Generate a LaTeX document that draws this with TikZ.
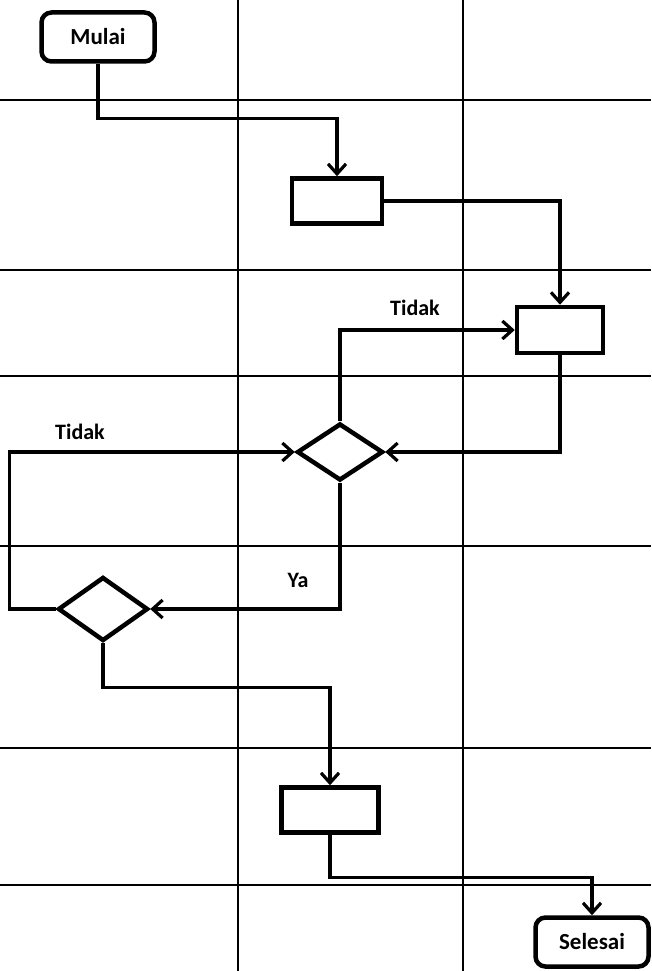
\documentclass[tikz,border=0pt]{standalone}
\usepackage{fontspec}
\setmainfont{Carlito}
\usepackage{tikz}
\usetikzlibrary{arrows.meta, shapes.geometric, calc}

\begin{document}
\begin{tikzpicture}[
      x=1pt, y=-1pt,
      lane/.style={line width=1.6pt, black},
      terminal/.style={rectangle, rounded corners=10pt, draw, line width=4.5pt,
                  minimum width=113pt, minimum height=49pt, align=center,
                  font=\fontsize{23}{27}\selectfont\bfseries},
      box/.style={rectangle, draw, line width=4.5pt,
                  minimum width=90pt, minimum height=45pt},
      decision/.style={diamond, draw, line width=4.5pt,
                  minimum width=88pt, minimum height=60pt, inner sep=0pt},
      lbl/.style={font=\fontsize{22}{26}\selectfont\bfseries},
      arr/.style={-{Straight Barb[length=10pt, width=18pt]}, line width=3.2pt}
    ]
      \useasboundingbox (0,0) rectangle (651,971);
      % swimlane grid
      \draw[lane] (238,0) -- (238,971);
      \draw[lane] (463,0) -- (463,971);
      \draw[lane] (0,100) -- (651,100);
      \draw[lane] (0,270) -- (651,270);
      \draw[lane] (0,376) -- (651,376);
      \draw[lane] (0,546) -- (651,546);
      \draw[lane] (0,748) -- (651,748);
      \draw[lane] (0,885) -- (651,885);
      % nodes
      \node[terminal] (mulai) at (98,37) {Mulai};
      \node[box] (proc1) at (337,201) {};
      \node[box, minimum width=86pt, minimum height=46pt] (proc2) at (560,330) {};
      \node[decision, minimum width=86pt, minimum height=57pt] (dec1) at (340,452) {};
      \node[decision, minimum width=90pt, minimum height=64pt] (dec2) at (103,609) {};
      \node[box, minimum width=97pt] (proc3) at (330,810) {};
      \node[terminal] (selesai) at (592,942) {Selesai};
      \node[lbl] (tidak1) at (415,308) {Tidak};
      \node[lbl] (tidak2) at (80,432) {Tidak};
      \node[lbl] (ya) at (298,580) {Ya};
      % connectors
      \draw[arr] (mulai.south) -- ++(0,55) -| (proc1.north);
      \draw[arr] (proc1.east) -| (proc2.north);
      \draw[arr] (dec1.north) |- (proc2.west);
      \draw[arr] (proc2.south) |- (dec1.east);
      \draw[arr] (dec1.south) |- (dec2.east);
      \draw[arr] (dec2.west) -- ++(-46,0) |- (dec1.west);
      \draw[arr] (dec2.south) -- ++(0,44) -| (proc3.north);
      \draw[arr] (proc3.south) -- ++(0,43) -| (selesai.north);
    \end{tikzpicture}
\end{document}
